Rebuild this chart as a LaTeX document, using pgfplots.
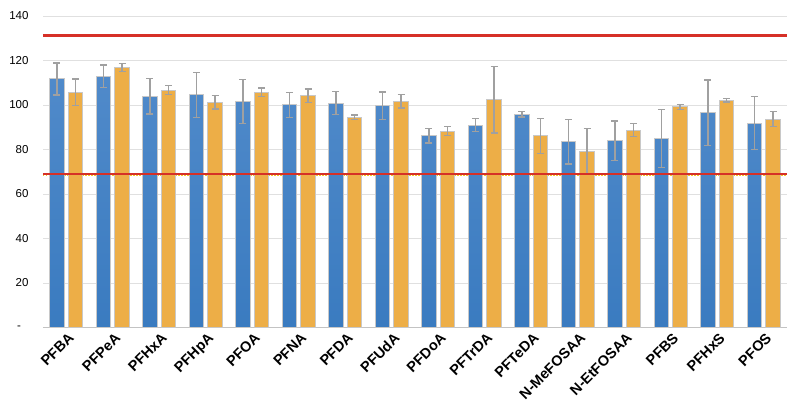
\documentclass[border=0pt]{standalone}
\usepackage{pgfplots}
\pgfplotsset{compat=1.18}
\usepackage{pgfplotstable}
\usepackage{fontspec}
\setmainfont{Liberation Sans}
\definecolor{bluetop}{RGB}{80,138,202}
\definecolor{bluebot}{RGB}{58,123,192}
\definecolor{barorange}{RGB}{237,174,71}
\definecolor{errgray}{RGB}{160,160,160}
\definecolor{gridgray}{RGB}{224,224,224}
\definecolor{redline}{RGB}{214,48,39}
\definecolor{yel}{RGB}{246,200,40}
\definecolor{shadow}{RGB}{200,200,200}

\pgfplotstableread{
x b be o oe
0 111.7 7.2 105.7 6.0
1 113.0 5.0 116.8 1.9
2 104.0 8.0 106.7 2.0
3 104.5 10.0 101.2 3.0
4 101.7 9.9 105.7 2.0
5 100.0 5.5 104.2 3.0
6 100.8 5.2 94.5 1.0
7 99.6 6.2 101.7 3.0
8 86.1 3.2 88.2 2.0
9 91.0 3.0 102.4 15.0
10 95.8 1.2 86.1 7.9
11 83.5 10.0 79.3 10.0
12 84.0 8.8 88.7 3.0
13 85.0 13.0 99.1 1.1
14 96.5 14.8 102.1 0.8
15 91.9 11.8 93.6 3.4
}\data

\begin{document}
\begin{tikzpicture}
\useasboundingbox (-43pt,-78.5pt) rectangle (757pt,327.5pt);
\begin{axis}[
  at={(0,0)}, anchor=south west,
  scale only axis, width=744pt, height=311.5pt,
  xmin=-0.5, xmax=15.5, ymin=0, ymax=140,
  ytick={0,20,...,140},
  yticklabels={\makebox[19pt][c]{-},20,40,60,80,100,120,140},
  xtick={0,...,15},
  xticklabels={PFBA,PFPeA,PFHxA,PFHpA,PFOA,PFNA,PFDA,PFUdA,PFDoA,PFTrDA,PFTeDA,N-MeFOSAA,N-EtFOSAA,PFBS,PFHxS,PFOS},
  axis line style={draw=none},
  major tick length=0pt,
  ymajorgrids, grid style={gridgray, line width=0.9pt},
  yticklabel style={font=\fontsize{11.5}{13}\selectfont, xshift=-11pt},
  xticklabel style={font=\bfseries\fontsize{14.5}{16}\selectfont, rotate=45, anchor=north east, inner sep=1pt, yshift=-3pt, xshift=-1pt},
  ybar, bar width=0.32,
  clip=false,
]
\addplot[sharp plot, yel, line width=1.5pt, dash pattern=on 1.5pt off 1.5pt, forget plot] coordinates {(-0.5,68.6) (15.5,68.6)};
\addplot[sharp plot, gridgray!70!gray, line width=0.9pt, forget plot] coordinates {(-0.5,0) (15.5,0)};
\addplot[top color=bluetop, bottom color=bluebot, draw=shadow, line width=1pt, bar shift=-0.2,
  error bars/.cd, y dir=both, y explicit,
  error bar style={errgray, line width=1.3pt},
  error mark options={rotate=90, errgray, mark size=3.5pt, line width=1.3pt}]
  table[x=x, y=b, y error=be]{\data};
\addplot[fill=barorange, draw=shadow, line width=1pt, bar shift=0.2,
  error bars/.cd, y dir=both, y explicit,
  error bar style={errgray, line width=1.3pt},
  error mark options={rotate=90, errgray, mark size=3.5pt, line width=1.3pt}]
  table[x=x, y=o, y error=oe]{\data};
\addplot[sharp plot, redline, line width=2.3pt, forget plot] coordinates {(-0.5,69) (15.5,69)};
\addplot[sharp plot, redline, line width=2.3pt, forget plot] coordinates {(-0.5,131.2) (15.5,131.2)};
\end{axis}
\end{tikzpicture}
\end{document}
